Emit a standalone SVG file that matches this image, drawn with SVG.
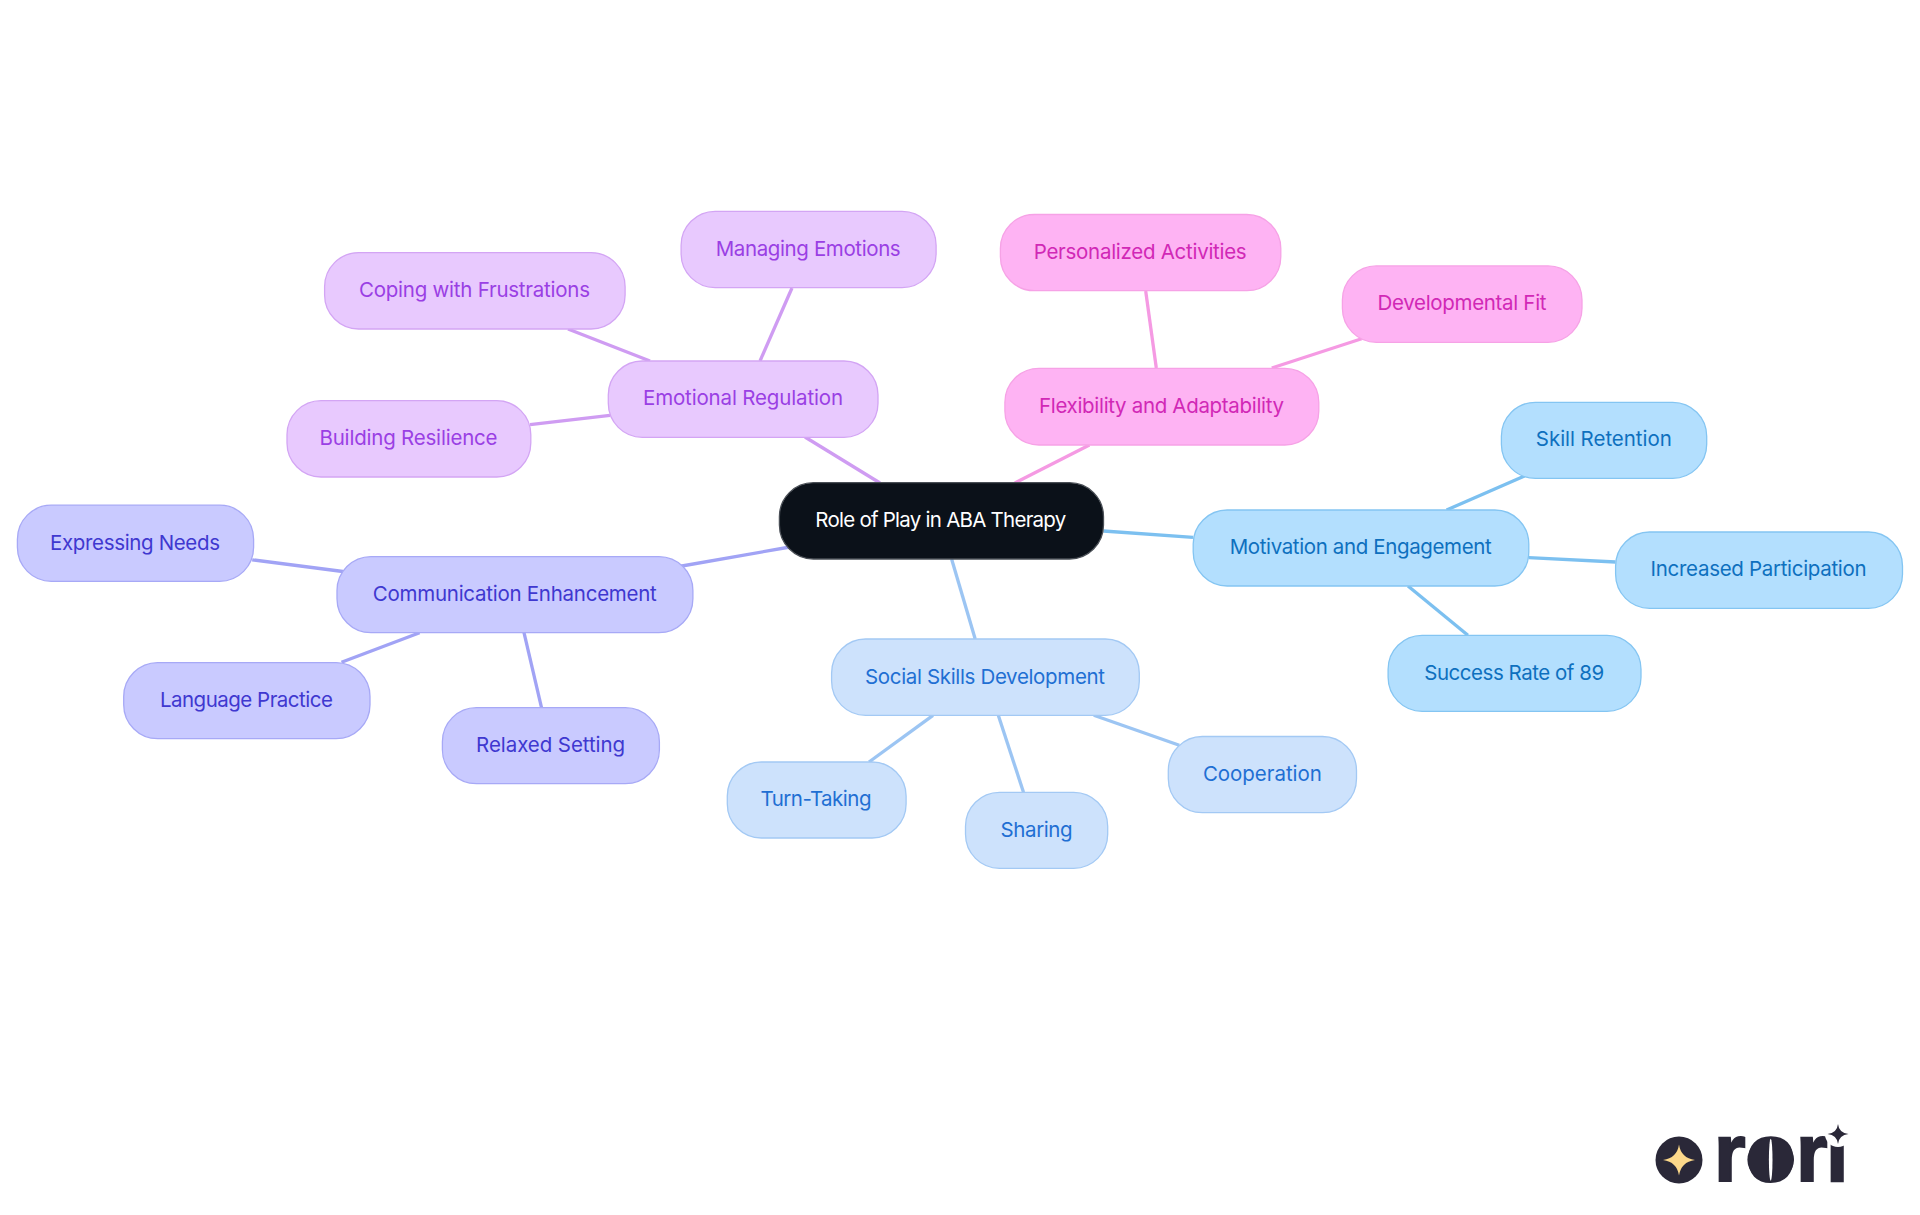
<svg xmlns="http://www.w3.org/2000/svg" width="1920" height="1215" viewBox="0 0 1920 1215">
<style>
text{font-family:"Inter","Noto Sans","Liberation Sans",sans-serif;font-size:20.5px;font-weight:400;text-anchor:middle}
rect.b{stroke-width:1.3}
.c line{stroke-width:3.3;fill:none}
.root rect{fill:#0b1119;stroke:#4a4f56}.root text{fill:#fff}
.emo rect{fill:#e8c9fe;stroke:#d3a5f4}.emo text{fill:#9a3fe4}
.flex rect{fill:#feb3f3;stroke:#f6a2e6}.flex text{fill:#d128b6}
.mot rect{fill:#b3dffe;stroke:#84c5f2}.mot text{fill:#0e70be}
.soc rect{fill:#cde2fc;stroke:#a3c9f4}.soc text{fill:#1f6fd3}
.com rect{fill:#c9caff;stroke:#a7a9f6}.com text{fill:#3f38d0}
.le{stroke:#cf9cf2}.lf{stroke:#f59ae3}.lm{stroke:#7cc0f0}.ls{stroke:#9cc5f3}.lc{stroke:#a1a3f5}
</style>
<rect width="1920" height="1215" fill="#fff"/>
<g id="connectors" class="c">
<line class="le" x1="805" y1="437" x2="880" y2="483"/>
<line class="le" x1="568" y1="329" x2="650" y2="361"/>
<line class="le" x1="792" y1="288" x2="760" y2="361"/>
<line class="le" x1="530" y1="424.7" x2="610" y2="415.3"/>
<line class="lf" x1="1089.4" y1="445" x2="1014.8" y2="483"/>
<line class="lf" x1="1145.7" y1="291" x2="1156.3" y2="368"/>
<line class="lf" x1="1361.6" y1="338.7" x2="1271.8" y2="368"/>
<line class="lm" x1="1103.5" y1="531" x2="1193" y2="537.3"/>
<line class="lm" x1="1524.5" y1="476" x2="1446.6" y2="510"/>
<line class="lm" x1="1528.8" y1="557.7" x2="1615.6" y2="562"/>
<line class="lm" x1="1408" y1="586" x2="1467.9" y2="635.3"/>
<line class="ls" x1="951.6" y1="559" x2="975.2" y2="639"/>
<line class="ls" x1="933" y1="715.3" x2="869" y2="762"/>
<line class="ls" x1="998.3" y1="715.3" x2="1023.5" y2="792.3"/>
<line class="ls" x1="1093.8" y1="715.3" x2="1179.3" y2="745.3"/>
<line class="lc" x1="790" y1="547" x2="679" y2="566.500"/>
<line class="lc" x1="252.2" y1="559.8" x2="342.9" y2="571.5"/>
<line class="lc" x1="419.6" y1="632.7" x2="341.5" y2="662.3"/>
<line class="lc" x1="524" y1="632.7" x2="541.5" y2="707.7"/>
</g>
<g id="root" class="root"><rect class="b" x="779.4" y="482.7" width="324.1" height="76.3" rx="34"/><text x="940.8" y="527" textLength="251">Role of Play in ABA Therapy</text></g>
<g id="emotional" class="emo"><rect class="b" x="608.3" y="361" width="269.7" height="76.3" rx="34"/><text x="743" y="405.2" textLength="200">Emotional Regulation</text></g>
<g id="managing" class="emo"><rect class="b" x="681.1" y="211.3" width="255" height="76.3" rx="34"/><text x="808.2" y="256" textLength="185">Managing Emotions</text></g>
<g id="coping" class="emo"><rect class="b" x="324.6" y="252.7" width="300.5" height="76.3" rx="34"/><text x="474.5" y="297.4" textLength="231">Coping with Frustrations</text></g>
<g id="building" class="emo"><rect class="b" x="287" y="400.7" width="243.8" height="76.3" rx="34"/><text x="408.5" y="445.4" textLength="178">Building Resilience</text></g>
<g id="flexibility" class="flex"><rect class="b" x="1004.9" y="368.3" width="313.9" height="76.7" rx="34"/><text x="1161.5" y="413" textLength="245">Flexibility and Adaptability</text></g>
<g id="personalized" class="flex"><rect class="b" x="1000.4" y="214.5" width="280.4" height="76.2" rx="34"/><text x="1140.2" y="259" textLength="213">Personalized Activities</text></g>
<g id="developmental" class="flex"><rect class="b" x="1342.4" y="265.9" width="239.6" height="76.4" rx="34"/><text x="1462" y="310" textLength="169">Developmental Fit</text></g>
<g id="motivation" class="mot"><rect class="b" x="1193.2" y="510" width="335.6" height="76" rx="34"/><text x="1360.7" y="554" textLength="262">Motivation and Engagement</text></g>
<g id="skill" class="mot"><rect class="b" x="1501.4" y="402.3" width="205.3" height="76" rx="34"/><text x="1603.8" y="446" textLength="136">Skill Retention</text></g>
<g id="increased" class="mot"><rect class="b" x="1615.6" y="532" width="286.9" height="76.3" rx="34"/><text x="1758.6" y="576" textLength="216">Increased Participation</text></g>
<g id="success" class="mot"><rect class="b" x="1388.1" y="635.3" width="252.9" height="76" rx="34"/><text x="1514.2" y="679.8" textLength="180">Success Rate of 89</text></g>
<g id="social" class="soc"><rect class="b" x="831.6" y="639" width="307.7" height="76.3" rx="34"/><text x="985" y="683.7" textLength="240">Social Skills Development</text></g>
<g id="turn" class="soc"><rect class="b" x="727.3" y="762" width="178.8" height="76" rx="34"/><text x="816" y="806" textLength="111">Turn-Taking</text></g>
<g id="sharing" class="soc"><rect class="b" x="965.5" y="792.3" width="142.2" height="76" rx="34"/><text x="1036.6" y="836.8" textLength="72">Sharing</text></g>
<g id="cooperation" class="soc"><rect class="b" x="1168.3" y="736.5" width="188.2" height="76.2" rx="34"/><text x="1262.4" y="781" textLength="119">Cooperation</text></g>
<g id="communication" class="com"><rect class="b" x="337" y="556.6" width="355.9" height="76.1" rx="34"/><text x="514.8" y="601" textLength="284">Communication Enhancement</text></g>
<g id="expressing" class="com"><rect class="b" x="17.4" y="505.2" width="236.2" height="76.1" rx="34"/><text x="135" y="549.7" textLength="170">Expressing Needs</text></g>
<g id="language" class="com"><rect class="b" x="123.7" y="662.6" width="246.3" height="76.1" rx="34"/><text x="246.4" y="707" textLength="173">Language Practice</text></g>
<g id="relaxed" class="com"><rect class="b" x="442.4" y="707.7" width="217" height="76" rx="34"/><text x="550.6" y="752.2" textLength="149">Relaxed Setting</text></g>
<g id="logo">
<circle cx="1679" cy="1160" r="23.5" fill="#2a2838"/>
<path d="M1679 1144.500 Q1681 1158 1695 1160 Q1681 1162 1679 1175.500 Q1677 1162 1663 1160 Q1677 1158 1679 1144.500Z" fill="#fcd88a"/>
<text y="1181" x="1714 1746 1796 1826" style="font-family:'Liberation Sans',sans-serif;font-size:81px;font-weight:700;text-anchor:start;fill:#2a2838;stroke:#2a2838;stroke-width:2">rori</text>
<ellipse cx="1770.7" cy="1159.7" rx="23.3" ry="21.7" fill="#2a2838"/>
<ellipse cx="1770.7" cy="1159.7" rx="1.8" ry="21" fill="#fff"/>
<rect x="1824" y="1112" width="26" height="24" fill="#fff"/>
<circle cx="1838" cy="1134" r="13" fill="#fff"/>
<path d="M1838 1124 Q1839 1133 1848.500 1134 Q1839 1135 1838 1144 Q1837 1135 1827.500 1134 Q1837 1133 1838 1124Z" fill="#2a2838"/>
</g>
</svg>
